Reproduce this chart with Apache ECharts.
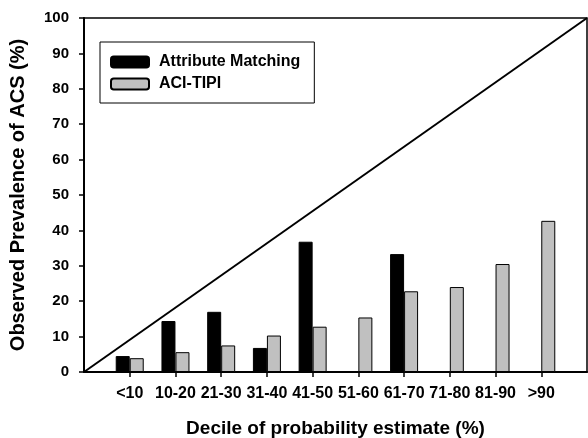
<!DOCTYPE html>
<html>
<head>
<meta charset="utf-8">
<script src="https://cdn.jsdelivr.net/npm/echarts@6/dist/echarts.min.js"></script>
<style>html,body{margin:0;padding:0;background:#fff}#c{width:588px;height:438px}</style>
</head>
<body>
<div id="c"></div>
<script>
const categories = ['<10','10-20','21-30','31-40','41-50','51-60','61-70','71-80','81-90','>90'];
const attributeMatching = [4.5, 14.4, 17.0, 6.8, 36.8, null, 33.3, null, null, null];
const aciTipi = [3.9, 5.6, 7.5, 10.3, 12.8, 15.4, 22.8, 24.0, 30.5, 42.7];
const yTicks = [0,10,20,30,40,50,60,70,80,90,100];
const diagonal = [[0,0],[11,100]];

const axisCats = [''].concat(categories, ['']);
const pad = v => [null].concat(v, [null]);
const font = 'Liberation Sans, Arial, sans-serif';

const chart = echarts.init(document.getElementById('c'), null, {renderer:'canvas'});
chart.setOption({
  animation: false,
  backgroundColor: '#fff',
  grid: {left: 84, top: 18, right: 1, bottom: 66, containLabel: false, outerBoundsMode: 'none',
    show: true, borderColor: '#000', borderWidth: 1.5, backgroundColor: 'transparent'},
  legend: {
    data: ['Attribute Matching', 'ACI-TIPI'],
    orient: 'vertical', left: 100, top: 42,
    padding: [12, 14, 11, 10],
    borderColor: '#000', borderWidth: 1,
    itemWidth: 38, itemHeight: 11, itemGap: 6,
    textStyle: {fontFamily: font, fontWeight: 'bold', fontSize: 16, color: '#000', padding: [0,0,0,5]}
  },
  xAxis: {
    type: 'category', data: axisCats, boundaryGap: false,
    name: 'Decile of probability estimate (%)', nameLocation: 'middle', nameGap: 47,
    nameTextStyle: {fontFamily: font, fontWeight: 'bold', fontSize: 19, color: '#000'},
    axisLine: {lineStyle: {color: '#000', width: 2}},
    axisTick: {show: true, length: 5, inside: false, interval: (i) => i > 0 && i < axisCats.length - 1, lineStyle: {color: '#000', width: 1.5}},
    axisLabel: {fontFamily: font, fontWeight: 'bold', fontSize: 16, color: '#000', margin: 14, interval: 0},
    splitLine: {show: false}
  },
  yAxis: {
    type: 'value', min: 0, max: 100, interval: 10,
    name: 'Observed Prevalence of ACS (%)', nameLocation: 'middle', nameGap: 56,
    nameTextStyle: {fontFamily: font, fontWeight: 'bold', fontSize: 20, color: '#000'},
    axisLine: {show: true, lineStyle: {color: '#000', width: 2}},
    axisTick: {show: true, length: 5, lineStyle: {color: '#000', width: 1.5}},
    axisLabel: {fontFamily: font, fontWeight: 'bold', fontSize: 15, color: '#000', margin: 15,
      formatter: v => yTicks.includes(v) ? String(v) : ''},
    splitLine: {show: false}
  },
  series: [
    {name: 'Attribute Matching', type: 'bar', data: pad(attributeMatching), barWidth: 14, barGap: '0%',
      itemStyle: {color: '#000', borderColor: '#000', borderWidth: 1}},
    {name: 'ACI-TIPI', type: 'bar', data: pad(aciTipi), barWidth: 14, barGap: '0%',
      itemStyle: {color: '#c0c0c0', borderColor: '#000', borderWidth: 1}},
    {name: 'diag', type: 'line', data: diagonal, symbol: 'none', z: 5,
      lineStyle: {color: '#000', width: 2}}
  ]
});
</script>
</body>
</html>
